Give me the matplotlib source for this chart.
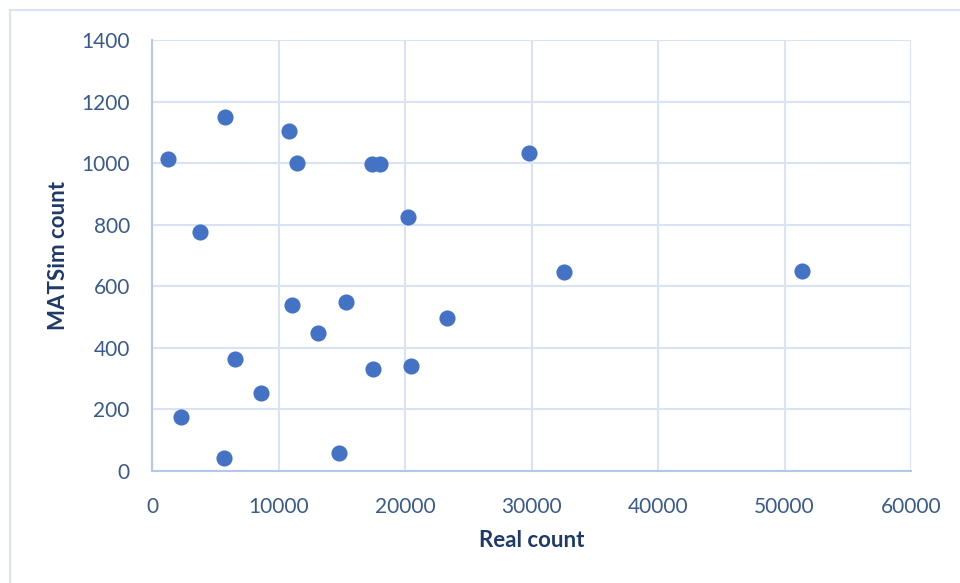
import matplotlib.pyplot as plt
from matplotlib.patches import Rectangle

plt.rcParams['font.family'] = ['Lato', 'DejaVu Sans']

# data
real_count = [1300, 5800, 10800, 11500, 17400, 18000, 29800, 3800, 20200,
              32600, 51400, 11100, 15300, 13100, 23300, 6600, 17500, 20500,
              8600, 2300, 5700, 14800]
matsim_count = [1013, 1150, 1104, 1000, 997, 997, 1033, 776, 825,
                646, 650, 539, 549, 447, 497, 364, 331, 341,
                254, 175, 43, 60]

x_ticks = [0, 10000, 20000, 30000, 40000, 50000, 60000]
y_ticks = [0, 200, 400, 600, 800, 1000, 1200, 1400]

grid_col = '#D9E3F4'
axis_col = '#B4C8E8'
tick_col = '#3A5A8C'
label_col = '#1F3A68'

fig = plt.figure(figsize=(9.6, 5.83), dpi=100)
ax = fig.add_axes([152/960, 1 - 471/583, (911 - 152)/960, (471 - 40)/583])

ax.scatter(real_count, matsim_count, s=135, color='#4472C4', zorder=3, linewidths=0)

ax.set_xlim(0, 60000)
ax.set_ylim(0, 1400)
ax.set_xticks(x_ticks)
ax.set_yticks(y_ticks)
ax.grid(True, color=grid_col, linewidth=1.5, zorder=0)
ax.tick_params(length=0, labelsize=15, labelcolor=tick_col)
ax.tick_params(axis='x', pad=19)
ax.tick_params(axis='y', pad=16)

for side in ['top', 'right']:
    ax.spines[side].set_visible(False)
for side in ['left', 'bottom']:
    ax.spines[side].set_color(axis_col)
    ax.spines[side].set_linewidth(1.5)

ax.set_xlabel('Real count', fontsize=16, fontweight='bold', color=label_col)
ax.set_ylabel('MATSim count', fontsize=16, fontweight='bold', color=label_col)
ax.xaxis.set_label_coords(0.5, -0.138)
ax.yaxis.set_label_coords(-0.109, 0.5)

# outer chart border
fig.patches.append(Rectangle((10/960, -0.5), 2, (583 - 10)/583 + 0.5, transform=fig.transFigure,
                             fill=False, edgecolor=grid_col, linewidth=1.5))

fig.savefig('out.png', dpi=100)
